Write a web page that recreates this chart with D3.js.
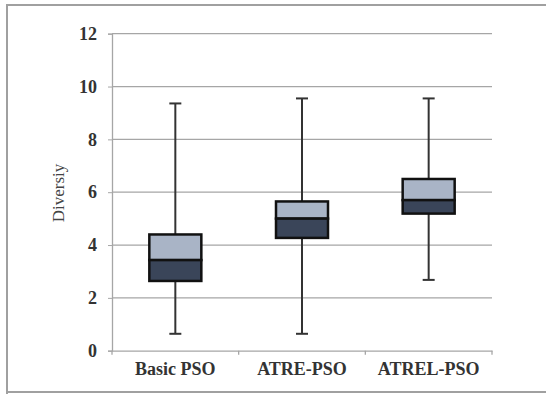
<!DOCTYPE html>
<html>
<head>
<meta charset="utf-8">
<style>
body { margin: 0; background: #fff; }
svg { display: block; }
</style>
</head>
<body>
<script src="https://d3js.org/d3.v7.min.js"></script>
<script>
'use strict';
// box plot data
const categories = ['Basic PSO', 'ATRE-PSO', 'ATREL-PSO'];
const whiskerLow = [0.64, 0.64, 2.68];
const q1 = [2.64, 4.27, 5.19];
const median = [3.43, 5.0, 5.70];
const q3 = [4.40, 5.65, 6.50];
const whiskerHigh = [9.36, 9.55, 9.55];
const yTicks = [0, 2, 4, 6, 8, 10, 12];

const serif = "'Liberation Serif', 'Times New Roman', serif";
const W = 546, H = 394;
const margin = {top: 33.7, right: 54, bottom: 43.3, left: 112};
const width = W - margin.left - margin.right;
const height = H - margin.top - margin.bottom;

const svg = d3.select('body').append('svg')
	.attr('width', W)
	.attr('height', H);

// outer frame
svg.append('path')
	.attr('d', 'M7,394 V5 H546 M7,392 H546')
	.attr('fill', 'none')
	.attr('stroke', '#a0a0a0')
	.attr('stroke-width', 2);

const g = svg.append('g')
	.attr('transform', 'translate(' + margin.left + ',' + margin.top + ')');

const x = d3.scaleBand()
	.domain(categories)
	.range([0, width]);

const y = d3.scaleLinear()
	.domain([0, 12])
	.range([height, 0]);

// gridlines
g.append('g')
	.selectAll('line')
	.data(yTicks.slice(1))
	.enter()
	.append('line')
	.attr('x1', 0)
	.attr('x2', width)
	.attr('y1', d => y(d))
	.attr('y2', d => y(d))
	.attr('stroke', '#a6a6a6')
	.attr('stroke-width', 1.3);

// y axis
const yAxis = g.append('g')
	.call(d3.axisLeft(y).tickValues(yTicks).tickSize(4).tickPadding(11));
yAxis.select('.domain').attr('stroke', '#a6a6a6').attr('stroke-width', 1.3);
yAxis.selectAll('.tick line').attr('stroke', '#a6a6a6');
yAxis.selectAll('.tick text')
	.style('font-family', serif)
	.style('font-size', '18px')
	.style('font-weight', 'bold')
	.attr('fill', '#333');

// x axis
const xAxis = g.append('g')
	.attr('transform', 'translate(0,' + height + ')')
	.call(d3.axisBottom(x).tickSize(0).tickPadding(12));
xAxis.select('.domain').attr('stroke', '#a6a6a6').attr('stroke-width', 1.3);
xAxis.selectAll('.tick text')
	.style('font-family', serif)
	.style('font-size', '18px')
	.style('font-weight', 'bold')
	.attr('fill', '#333');
// category boundary ticks
g.append('g')
	.selectAll('line')
	.data(d3.range(categories.length + 1))
	.enter()
	.append('line')
	.attr('x1', i => i * x.step())
	.attr('x2', i => i * x.step())
	.attr('y1', height)
	.attr('y2', height + 4)
	.attr('stroke', '#a6a6a6')
	.attr('stroke-width', 1.3);

// y label
svg.append('text')
	.attr('transform', 'translate(64,193) rotate(-90)')
	.attr('text-anchor', 'middle')
	.style('font-family', serif)
	.style('font-size', '17px')
	.attr('fill', '#444')
	.text('Diversiy');

// boxes
const boxW = 52, capW = 12;
const boxes = g.selectAll('.box')
	.data(categories)
	.enter()
	.append('g')
	.attr('class', 'box')
	.attr('transform', d => 'translate(' + (x(d) + x.bandwidth() / 2) + ',0)');

boxes.append('line')
	.attr('y1', (d, i) => y(whiskerLow[i]))
	.attr('y2', (d, i) => y(whiskerHigh[i]))
	.attr('stroke', '#333')
	.attr('stroke-width', 2);

boxes.append('line')
	.attr('x1', -capW / 2).attr('x2', capW / 2)
	.attr('y1', (d, i) => y(whiskerHigh[i]))
	.attr('y2', (d, i) => y(whiskerHigh[i]))
	.attr('stroke', '#333')
	.attr('stroke-width', 2);

boxes.append('line')
	.attr('x1', -capW / 2).attr('x2', capW / 2)
	.attr('y1', (d, i) => y(whiskerLow[i]))
	.attr('y2', (d, i) => y(whiskerLow[i]))
	.attr('stroke', '#333')
	.attr('stroke-width', 2);

// upper half (median to q3)
boxes.append('rect')
	.attr('x', -boxW / 2)
	.attr('width', boxW)
	.attr('y', (d, i) => y(q3[i]))
	.attr('height', (d, i) => y(median[i]) - y(q3[i]))
	.attr('fill', '#a9b4c6')
	.attr('stroke', '#111')
	.attr('stroke-width', 2.5);

// lower half (q1 to median)
boxes.append('rect')
	.attr('x', -boxW / 2)
	.attr('width', boxW)
	.attr('y', (d, i) => y(median[i]))
	.attr('height', (d, i) => y(q1[i]) - y(median[i]))
	.attr('fill', '#3a4559')
	.attr('stroke', '#111')
	.attr('stroke-width', 2.5);
</script>
</body>
</html>
